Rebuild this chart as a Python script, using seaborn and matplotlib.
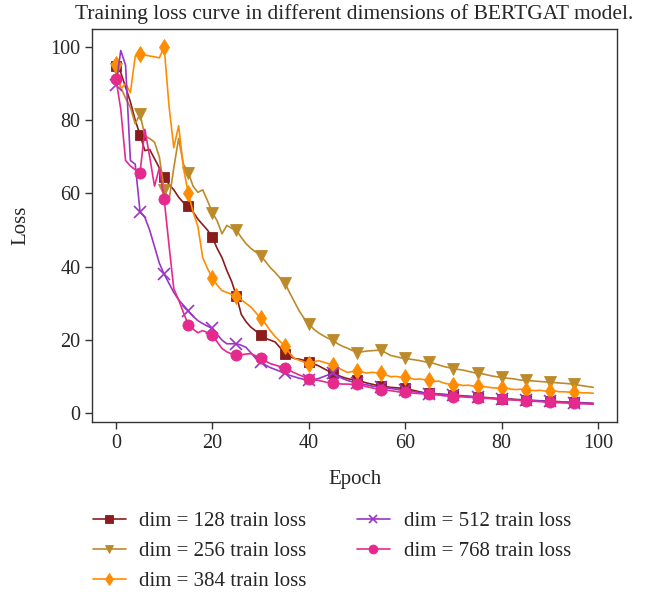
"""
Training loss curves of the BERTGAT model for different embedding dimensions.
"""

import numpy as np
import pandas as pd
import matplotlib
matplotlib.use("Agg")
import matplotlib.pyplot as plt
import seaborn as sns

epochs = list(range(100))

loss_128 = [94.8, 93, 89, 85, 80, 76, 71.7, 72, 69.5, 67,
            64.6, 62.5, 61, 59, 57.5, 56.7, 55, 53, 51.5, 50,
            48, 45, 42.5, 39, 36, 32, 27, 25, 23.5, 22.5,
            21.5, 20.5, 20, 19.5, 18, 16.3, 15.5, 15, 14.8, 14.5,
            14, 13.5, 13, 12.3, 11.6, 11, 10.4, 9.9, 9.5, 9.2,
            9, 8.7, 8.3, 8, 7.7, 7.4, 7.3, 7.1, 7, 6.9,
            6.8, 6.5, 6.2, 5.9, 5.6, 5.5, 5.4, 5.3, 5.2, 5.1,
            5.0, 4.9, 4.8, 4.7, 4.6, 4.5, 4.4, 4.3, 4.2, 4.1,
            4.0, 3.95, 3.9, 3.8, 3.75, 3.7, 3.6, 3.5, 3.45, 3.4,
            3.3, 3.25, 3.2, 3.1, 3.05, 3.0, 2.95, 2.9, 2.8, 2.7]

loss_256 = [94, 89, 86, 83.5, 79, 81.7, 75.7, 75, 74, 70,
            61, 58, 67, 75, 68, 65.7, 62, 60.3, 61, 58,
            54.8, 52.5, 49, 51.3, 50.5, 50, 48, 46.3, 45, 44,
            43, 41.5, 39.8, 38.5, 37, 35.7, 33, 30.5, 28, 26,
            24.5, 23, 22, 21.2, 20.5, 19.9, 19, 18.3, 17.8, 17.2,
            16.6, 16.8, 17, 17.1, 17.2, 17.3, 16.5, 15.8, 15.5, 15.2,
            15, 14.8, 14.6, 14.4, 14.1, 13.9, 13.6, 13.2, 12.8, 12.5,
            12.2, 12, 11.8, 11.5, 11.2, 10.9, 10.8, 10.5, 10.2, 10,
            9.8, 9.6, 9.5, 9.3, 9.1, 9.0, 8.9, 8.8, 8.7, 8.6,
            8.5, 8.4, 8.3, 8.2, 8.1, 7.9, 7.7, 7.5, 7.3, 7.1]

loss_384 = [95.4, 88.5, 90, 87.5, 97.5, 98, 97.8, 97.5, 97.3, 97,
            100, 84, 72.5, 78.5, 67, 60, 55, 51, 42.5, 39.5,
            37, 35, 33.5, 33, 32.5, 32, 31, 30, 29, 27.5,
            26, 24.5, 22.6, 21, 19.7, 18.5, 16.5, 15, 14.5, 14,
            13.6, 14, 14.4, 14, 13.6, 13.3, 12.5, 11.8, 11.2, 11.4,
            11.7, 11.3, 11, 11.2, 11.1, 11, 10.5, 10, 10.1, 9.9,
            9.8, 9.6, 9.3, 9.4, 9.2, 9, 8.7, 8.8, 8.3, 8.0,
            7.8, 7.9, 7.6, 7.7, 7.5, 7.4, 7.3, 7.2, 7.0, 6.9,
            6.8, 6.9, 6.6, 6.5, 6.6, 6.4, 6.3, 6.2, 6.3, 6.1,
            6.0, 6.1, 5.9, 5.9, 5.8, 5.8, 5.7, 5.6, 5.6, 5.5]

loss_512 = [89.5, 99, 95, 69, 68, 55, 53.5, 50, 45.5, 41,
            38, 35.5, 33, 31, 29.5, 28, 26.5, 25.3, 24.5, 23.8,
            23.2, 21.5, 20, 19, 19, 19, 18.6, 18, 16.5, 15,
            14, 13.2, 12.5, 12, 11.5, 11, 10.4, 10, 9.6, 9.3,
            9, 9.2, 9.5, 10, 10.5, 10.9, 10.2, 9.5, 9, 8.6,
            8.2, 8, 7.8, 7.5, 7.3, 7.1, 7, 6.8, 6.6, 6.4,
            6.3, 6.1, 5.9, 5.7, 5.5, 5.4, 5.3, 5.2, 5.1, 5.0,
            4.9, 4.8, 4.7, 4.6, 4.5, 4.4, 4.3, 4.2, 4.1, 4.0,
            3.9, 3.85, 3.8, 3.7, 3.65, 3.6, 3.5, 3.45, 3.4, 3.35,
            3.3, 3.2, 3.15, 3.1, 3.0, 2.95, 2.9, 2.85, 2.8, 2.75]

loss_768 = [91.3, 83, 69, 67.5, 66.5, 65.7, 77.5, 70, 62, 67,
            58.5, 46, 34, 31, 27.5, 24.2, 23, 22, 22.6, 22,
            21.3, 19.5, 17.7, 16.8, 16.2, 15.8, 16, 16.2, 16.3, 15.7,
            15, 14.3, 13.6, 13.2, 12.8, 12.3, 11.7, 11.1, 10.5, 10,
            9.5, 9.2, 9, 8.7, 8.4, 8.2, 8.1, 8.0, 8.0, 7.9,
            7.9, 7.6, 7.3, 7, 6.7, 6.5, 6.4, 6.2, 6.0, 5.8,
            5.7, 5.6, 5.5, 5.4, 5.3, 5.2, 5.1, 5.0, 4.8, 4.7,
            4.6, 4.55, 4.5, 4.4, 4.35, 4.3, 4.2, 4.1, 4.0, 3.9,
            3.8, 3.75, 3.7, 3.6, 3.55, 3.5, 3.4, 3.3, 3.2, 3.1,
            3.0, 2.95, 2.9, 2.85, 2.8, 2.7, 2.65, 2.6, 2.55, 2.5]

labels = ["dim = 128 train loss", "dim = 256 train loss", "dim = 384 train loss",
          "dim = 512 train loss", "dim = 768 train loss"]
series = [loss_128, loss_256, loss_384, loss_512, loss_768]
colors = ["#8B1C1C", "#BC8A2A", "#FF8C00", "#9A35C8", "#E6298C"]
markers = ["s", "v", "d", "x", "o"]
marker_sizes = [7.5, 8, 8, 8, 8]


def main():
    sns.set_theme(style="ticks")
    plt.rcParams["font.family"] = ["Liberation Serif", "DejaVu Serif"]

    df = pd.DataFrame({"epoch": epochs * len(series),
                       "loss": np.concatenate(series),
                       "run": np.repeat(labels, len(epochs))})

    fig = plt.figure(figsize=(6.53, 5.92), dpi=100)
    ax = fig.add_axes([0.141, 0.287, 0.804, 0.664])

    for lab, col, mk, ms in zip(labels, colors, markers, marker_sizes):
        sub = df[df["run"] == lab]
        sns.lineplot(data=sub, x="epoch", y="loss", ax=ax, color=col,
                     marker=mk, markersize=ms, markevery=5, linewidth=1.2,
                     markeredgewidth=1.2 if mk == "x" else 0.6,
                     markeredgecolor=col, label=lab, legend=False)

    ax.set_title("Training loss curve in different dimensions of BERTGAT model.",
                 fontsize=15.5, pad=7)
    ax.set_xlabel("Epoch", fontsize=15, labelpad=12)
    ax.set_ylabel("Loss", fontsize=15, labelpad=14)
    ax.set_xticks([0, 20, 40, 60, 80, 100])
    ax.set_yticks([0, 20, 40, 60, 80, 100])
    ax.tick_params(labelsize=14.5, length=5, width=1, color="#333333")
    for sp in ax.spines.values():
        sp.set_color("#333333")
        sp.set_linewidth(1.0)

    handles, labs = ax.get_legend_handles_labels()
    fig.legend(handles, labs, loc="upper left", bbox_to_anchor=(0.113, 0.168),
               ncol=2, frameon=False, fontsize=15, handlelength=1.6,
               handletextpad=0.65, columnspacing=2.4, labelspacing=0.5,
               markerscale=0.8)

    fig.savefig("out.png", dpi=100)
    plt.close(fig)


if __name__ == "__main__":
    main()
